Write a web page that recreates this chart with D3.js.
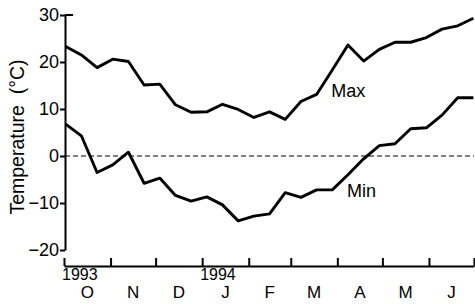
<!DOCTYPE html>
<html>
<head>
<meta charset="utf-8">
<script src="https://cdn.jsdelivr.net/npm/d3@7"></script>
<style>
  body { margin: 0; background: #fff; }
  svg { display: block; font-family: "Liberation Sans", Arial, Helvetica, sans-serif; }
</style>
</head>
<body>
<div id="chart"></div>
<script>
// ten-day temperature, Oct 1993 - Jun 1994
const maxTemp = [23.3, 21.5, 18.8, 20.6, 20.1, 15.1, 15.3, 10.9, 9.3, 9.4, 11.0, 9.9, 8.2, 9.4,
  7.8, 11.6, 13.1, 18.3, 23.6, 20.2, 22.7, 24.2, 24.2, 25.2, 27.0, 27.7, 29.3];
const minTemp = [6.8, 4.3, -3.5, -1.9, 0.8, -5.8, -4.7, -8.4, -9.6, -8.7, -10.4, -13.8, -12.8, -12.3,
  -7.8, -8.8, -7.2, -7.2, -4.0, -0.6, 2.2, 2.6, 5.8, 6.0, 8.7, 12.4, 12.4];
const monthLabels = ["O", "N", "D", "J", "F", "M", "A", "M", "J"];
const yearLabels = [{ label: "1993", date: new Date(1993, 9, 1) }, { label: "1994", date: new Date(1994, 0, 1) }];
const yTicks = [-20, -10, 0, 10, 20, 30];
const seriesLabels = [{ text: "Max", idx: 17, value: 12.6, dx: -1 }, { text: "Min", idx: 18, value: -8.7, dx: -1 }];

const W = 475, H = 304;
const start = new Date(1993, 9, 1), end = new Date(1994, 6, 1);

const x = d3.scaleTime().domain([start, end]).range([64, 474]);
const xi = d3.scaleLinear().domain([0, maxTemp.length - 1]).range([x(start) + 1.7, x(end) - 0.6]);
const y = d3.scaleLinear().domain([-20, 30]).range([250, 15]);

const svg = d3.select("#chart").append("svg").attr("width", W).attr("height", H);

// y axis
const yAxis = svg.append("g")
  .attr("transform", "translate(65,0)")
  .call(d3.axisLeft(y).tickValues(yTicks).tickSize(5).tickSizeOuter(0).tickPadding(1));
yAxis.select(".domain").attr("stroke", "#000").attr("stroke-width", 2);
yAxis.selectAll(".tick line").attr("stroke", "#000").attr("stroke-width", 2);
yAxis.selectAll(".tick text").attr("font-size", 18).attr("fill", "#000")
  .attr("font-family", "Liberation Sans, Arial, sans-serif");
// cap at the top of the axis
svg.append("line").attr("x1", 65).attr("x2", 73).attr("y1", y(30)).attr("y2", y(30))
  .attr("stroke", "#000").attr("stroke-width", 2);

// x axis with inward ticks at month starts
const xAxis = svg.append("g")
  .attr("transform", "translate(0,266)")
  .call(d3.axisBottom(x).ticks(d3.timeMonth.every(1)).tickSizeInner(-8).tickSizeOuter(0).tickFormat(""));
xAxis.select(".domain").attr("stroke", "#000").attr("stroke-width", 2);
xAxis.selectAll(".tick line").attr("stroke", "#000").attr("stroke-width", 2);

const months = d3.timeMonth.range(start, end);
svg.selectAll(".month").data(months).enter().append("text")
  .attr("class", "month")
  .attr("x", d => (x(d) + x(d3.timeMonth.offset(d, 1))) / 2)
  .attr("y", 298)
  .attr("text-anchor", "middle")
  .attr("font-size", 17)
  .text((d, i) => monthLabels[i]);

svg.selectAll(".year").data(yearLabels).enter().append("text")
  .attr("class", "year")
  .attr("x", d => x(d.date) - 2)
  .attr("y", 280)
  .attr("font-size", 16)
  .text(d => d.label);

// zero line
svg.append("line")
  .attr("x1", x(start) + 1).attr("x2", x(end))
  .attr("y1", y(0)).attr("y2", y(0))
  .attr("stroke", "#000").attr("stroke-width", 1.2)
  .attr("stroke-dasharray", "5,3");

const line = d3.line().x((d, i) => xi(i)).y(d => y(d));
[maxTemp, minTemp].forEach(s => {
  svg.append("path").datum(s)
    .attr("d", line)
    .attr("fill", "none")
    .attr("stroke", "#000")
    .attr("stroke-width", 2.9)
    .attr("stroke-linejoin", "round");
});

svg.selectAll(".serlab").data(seriesLabels).enter().append("text")
  .attr("class", "serlab")
  .attr("x", d => xi(d.idx) + d.dx)
  .attr("y", d => y(d.value))
  .attr("font-size", 18)
  .text(d => d.text);

// y title
svg.append("text")
  .attr("transform", "translate(24," + 137 + ") rotate(-90)")
  .attr("text-anchor", "middle")
  .attr("font-size", 19.5)
  .style("white-space", "pre")
  .text("Temperature  (°C)");
</script>
</body>
</html>
